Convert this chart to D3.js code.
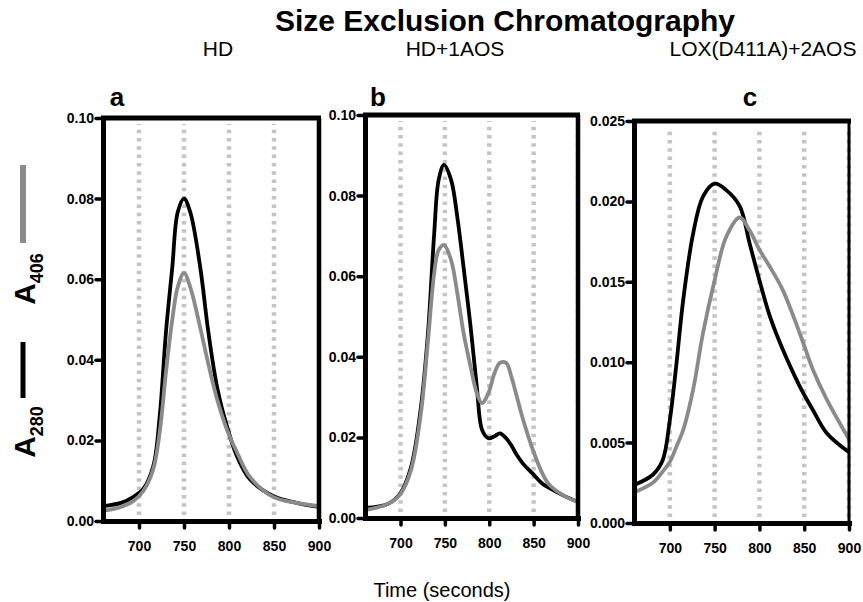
<!DOCTYPE html>
<html>
<head>
<meta charset="utf-8">
<script src="https://cdn.jsdelivr.net/npm/d3@7"></script>
<style>
  html, body { margin: 0; padding: 0; background: #fff; }
  svg { display: block; }
  text { font-family: "Liberation Sans", Arial, Helvetica, sans-serif; }
</style>
</head>
<body>
<svg id="chart" width="863" height="602"></svg>
<script>
// ---------------- DATA ----------------
const chartTitle = "Size Exclusion Chromatography";
const panelLetters = ["a", "b", "c"];
const panelTitles = ["HD", "HD+1AOS", "LOX(D411A)+2AOS"];
const xLabel = "Time (seconds)";
const xTicks = [700, 750, 800, 850, 900];
const xDomain = [660, 900];
const yTicksAB = [0, 0.02, 0.04, 0.06, 0.08, 0.10];
const yTicksC = [0, 0.005, 0.010, 0.015, 0.020, 0.025];

// Panel a (HD)
const timeA  = [660, 680, 694, 705, 716, 723, 730, 737, 743, 750, 757, 768, 777, 787, 798, 809, 823, 849, 875, 900];
const a280A  = [0.0037, 0.0045, 0.006, 0.008, 0.0137, 0.026, 0.047, 0.063, 0.0766, 0.080, 0.0766, 0.063, 0.047, 0.033, 0.0233, 0.016, 0.0104, 0.0062, 0.0045, 0.0035];
const a406A  = [0.0025, 0.0035, 0.005, 0.0075, 0.013, 0.022, 0.037, 0.050, 0.058, 0.0615, 0.058, 0.048, 0.039, 0.030, 0.0225, 0.017, 0.011, 0.006, 0.0045, 0.0037];

// Panel b (HD+1AOS)
const timeB  = [660, 686, 700, 712, 723, 731, 738, 743, 749, 757, 764, 771, 779, 786, 792, 799, 806, 812, 819, 825, 830, 838, 849, 860, 868, 886, 900];
const a280B  = [0.0025, 0.0035, 0.0062, 0.0127, 0.0275, 0.046, 0.0707, 0.0839, 0.0876, 0.0839, 0.0747, 0.0623, 0.0474, 0.0325, 0.0218, 0.0198, 0.0203, 0.021, 0.0198, 0.018, 0.016, 0.0135, 0.011, 0.0085, 0.0074, 0.0053, 0.004];
const a406B  = [0.002, 0.0035, 0.006, 0.012, 0.026, 0.044, 0.0608, 0.0665, 0.0677, 0.064, 0.0558, 0.046, 0.0375, 0.031, 0.0285, 0.031, 0.036, 0.0385, 0.0385, 0.035, 0.031, 0.0245, 0.017, 0.011, 0.0082, 0.0053, 0.004];

// Panel c (LOX(D411A)+2AOS)
const timeC  = [660, 681, 692, 700, 707, 715, 726, 737, 750, 763, 778, 789, 800, 812, 826, 845, 860, 875, 900];
const a280C  = [0.00236, 0.003, 0.0039, 0.0064, 0.0097, 0.0139, 0.018, 0.0203, 0.0211, 0.0207, 0.0197, 0.0174, 0.0151, 0.0128, 0.0108, 0.0085, 0.007, 0.0056, 0.0044];
const a406C  = [0.0019, 0.0025, 0.0032, 0.0038, 0.0047, 0.0058, 0.0083, 0.0118, 0.0151, 0.0178, 0.019, 0.0182, 0.017, 0.0159, 0.0145, 0.0118, 0.0095, 0.0077, 0.0052];

// ---------------- LAYOUT ----------------
const panels = [
  { left: 103, right: 319, top: 118, bottom: 521, yMax: 0.10, yTicks: yTicksAB, fmt: ".2f", time: timeA, s280: a280A, s406: a406A, rightW: 4.5 },
  { left: 365, right: 578, top: 115, bottom: 518, yMax: 0.10, yTicks: yTicksAB, fmt: ".2f", time: timeB, s280: a280B, s406: a406B, rightW: 4.5 },
  { left: 634, right: 849, top: 121, bottom: 523, yMax: 0.025, yTicks: yTicksC, fmt: ".3f", time: timeC, s280: a280C, s406: a406C, rightW: 3 }
];
const letterX = [117, 378, 750];
const titleX = [218, 455, 763];
const BLACK = "#000000", GRAY = "#8a8a8a", DOT = "#c4c4c4";

const svg = d3.select("#chart");

svg.append("text").attr("x", 505).attr("y", 31).attr("text-anchor", "middle")
  .attr("font-size", 30).attr("font-weight", "bold").text(chartTitle);

panels.forEach((p, i) => {
  const x = d3.scaleLinear().domain(xDomain).range([p.left, p.right]);
  const y = d3.scaleLinear().domain([0, p.yMax]).range([p.bottom, p.top]);
  const g = svg.append("g");

  svg.append("text").attr("x", titleX[i]).attr("y", 56).attr("text-anchor", "middle")
    .attr("font-size", 21).text(panelTitles[i]);
  svg.append("text").attr("x", letterX[i]).attr("y", 106).attr("text-anchor", "middle")
    .attr("font-size", 26).attr("font-weight", "bold").text(panelLetters[i]);

  // dotted gridlines
  g.selectAll("line.grid").data(xTicks).enter().append("line")
    .attr("class", "grid")
    .attr("x1", d => x(d)).attr("x2", d => x(d))
    .attr("y1", p.bottom - 6).attr("y2", p.top + 6)
    .attr("stroke", DOT).attr("stroke-width", 4.5)
    .attr("stroke-dasharray", "3.5 4.8");

  // curves
  const line = d3.line().x(d => x(d[0])).y(d => y(d[1])).curve(d3.curveCatmullRom.alpha(0.5));
  const d280 = p.time.map((t, k) => [t, p.s280[k]]);
  const d406 = p.time.map((t, k) => [t, p.s406[k]]);
  g.append("path").attr("d", line(d280)).attr("fill", "none").attr("stroke", BLACK)
    .attr("stroke-width", 3.8).attr("stroke-linejoin", "round");
  g.append("path").attr("d", line(d406)).attr("fill", "none").attr("stroke", GRAY)
    .attr("stroke-width", 3.8).attr("stroke-linejoin", "round");

  // frame: top and right
  g.append("line").attr("x1", x(xDomain[0]) - 2).attr("x2", x(xDomain[1]) + 2)
    .attr("y1", y(p.yMax)).attr("y2", y(p.yMax)).attr("stroke", BLACK).attr("stroke-width", 5);
  g.append("line").attr("x1", x(xDomain[1])).attr("x2", x(xDomain[1]))
    .attr("y1", y(p.yMax)).attr("y2", y(0)).attr("stroke", BLACK).attr("stroke-width", p.rightW);

  // axes
  const ya = g.append("g").attr("transform", `translate(${p.left},0)`)
    .call(d3.axisLeft(y).tickValues(p.yTicks).tickFormat(d3.format(p.fmt)).tickSize(7).tickSizeOuter(0).tickPadding(2));
  const xa = g.append("g").attr("transform", `translate(0,${p.bottom})`)
    .call(d3.axisBottom(x).tickValues(xTicks).tickFormat(d3.format("d")).tickSize(7).tickSizeOuter(0).tickPadding(13));
  [ya, xa].forEach(a => {
    a.select(".domain").attr("stroke", BLACK).attr("stroke-width", 5).attr("stroke-linecap", "square");
    a.selectAll(".tick line").attr("stroke", BLACK).attr("stroke-width", 3.5).attr("stroke-linecap", "round");
    a.selectAll(".tick text").attr("fill", BLACK).attr("font-size", 14).attr("font-weight", "bold")
      .attr("font-family", "'Liberation Sans', Arial, sans-serif");
  });
});

// y legend label
const leg = svg.append("g");
leg.append("line").attr("x1", 23).attr("x2", 23).attr("y1", 165).attr("y2", 243)
  .attr("stroke", GRAY).attr("stroke-width", 6);
leg.append("line").attr("x1", 23).attr("x2", 23).attr("y1", 342).attr("y2", 398)
  .attr("stroke", BLACK).attr("stroke-width", 5);
function subLabel(cy, main, sub) {
  const t = leg.append("text").attr("transform", `translate(35,${cy}) rotate(-90)`)
    .attr("text-anchor", "middle").attr("font-weight", "bold");
  t.append("tspan").attr("font-size", 30).text(main);
  t.append("tspan").attr("font-size", 18).attr("dy", 8).text(sub);
}
subLabel(279, "A", "406");
subLabel(432, "A", "280");

svg.append("text").attr("x", 442).attr("y", 597).attr("text-anchor", "middle")
  .attr("font-size", 20).text(xLabel);
</script>
</body>
</html>
